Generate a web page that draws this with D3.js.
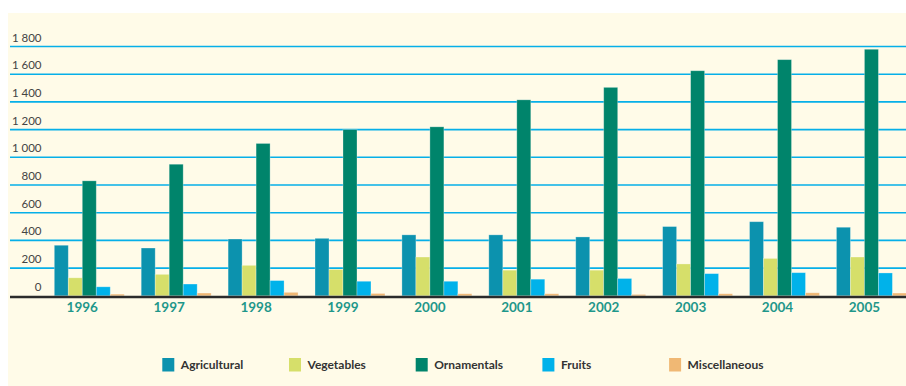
<!DOCTYPE html>
<html>
<head>
<meta charset="utf-8">
<script src="https://cdn.jsdelivr.net/npm/d3@7/dist/d3.min.js"></script>
<style>
  html, body { margin: 0; padding: 0; background: #ffffff; }
  svg { display: block; }
</style>
</head>
<body>
<svg id="chart" width="906" height="386"></svg>
<script>
// Exports by product group, 1996–2005
const years = ["1996", "1997", "1998", "1999", "2000", "2001", "2002", "2003", "2004", "2005"];
const seriesNames = ["Agricultural", "Vegetables", "Ornamentals", "Fruits", "Miscellaneous"];
const seriesColors = ["#0c92ae", "#d6df6a", "#00846b", "#00b2ea", "#f0b874"];

const agricultural  = [365, 345, 410, 415, 440, 440, 425, 500, 535, 495];
const vegetables    = [130, 155, 220, 190, 280, 185, 185, 230, 270, 280];
const ornamentals   = [830, 950, 1100, 1200, 1220, 1415, 1505, 1625, 1705, 1780];
const fruits        = [65, 85, 110, 105, 105, 120, 125, 160, 167, 165];
const miscellaneous = [12, 20, 25, 17, 15, 15, 10, 15, 22, 20];

const yTicks = [0, 200, 400, 600, 800, 1000, 1200, 1400, 1600, 1800];

const seriesValues = [agricultural, vegetables, ornamentals, fruits, miscellaneous];
const rows = years.map((yr, i) => ({
  year: yr,
  values: seriesNames.map((name, s) => ({ name, value: seriesValues[s][i], color: seriesColors[s] }))
}));

const svg = d3.select("#chart");

// Cream panel
svg.append("rect")
  .attr("x", 8).attr("y", 13)
  .attr("width", 906 - 8).attr("height", 386 - 13)
  .attr("fill", "#fffbe8");

const y = d3.scaleLinear().domain([0, 1800]).range([295.8, 46.5]);
const x = d3.scaleBand().domain(years).range([54.3, 906.4]).paddingInner(0.195).paddingOuter(0);
const xs = d3.scaleBand().domain(seriesNames).range([0, x.bandwidth()]).padding(0);

const fmt = d3.formatLocale({ decimal: ",", thousands: " ", grouping: [3], currency: ["", ""] }).format(",d");

// Horizontal gridlines
svg.append("g")
  .selectAll("line")
  .data(yTicks.filter(d => d > 0))
  .join("line")
  .attr("x1", 10).attr("x2", 906)
  .attr("y1", d => y(d)).attr("y2", d => y(d))
  .attr("stroke", "#06afe8")
  .attr("stroke-width", 1.6);

// Tick labels sit just above their gridline
svg.append("g")
  .selectAll("text")
  .data(yTicks)
  .join("text")
  .attr("x", 41.5)
  .attr("y", d => y(d) - 5)
  .attr("text-anchor", "end")
  .attr("font-family", "Lato, 'Open Sans', sans-serif")
  .attr("font-size", 11.5)
  .attr("fill", "#444")
  .text(d => fmt(d));

// Bars
const groups = svg.append("g")
  .selectAll("g")
  .data(rows)
  .join("g")
  .attr("transform", d => `translate(${x(d.year)},0)`);

groups.selectAll("rect")
  .data(d => d.values)
  .join("rect")
  .attr("x", d => xs(d.name))
  .attr("y", d => y(d.value))
  .attr("width", xs.bandwidth())
  .attr("height", d => y(0) - y(d.value))
  .attr("fill", d => d.color)
  .attr("stroke", "rgba(255,255,255,0.35)")
  .attr("stroke-width", 0.8);

// Baseline
svg.append("line")
  .attr("x1", 10).attr("x2", 906)
  .attr("y1", y(0) + 1.3).attr("y2", y(0) + 1.3)
  .attr("stroke", "#2b2b2b")
  .attr("stroke-width", 2.5);

// Year labels
svg.append("g")
  .selectAll("text")
  .data(years)
  .join("text")
  .attr("x", d => x(d) + xs.bandwidth() * 2)
  .attr("y", 312)
  .attr("text-anchor", "middle")
  .attr("font-family", "Lato, 'Open Sans', sans-serif")
  .attr("font-weight", 700)
  .attr("font-size", 13.5)
  .attr("fill", "#1f978a")
  .text(d => d);

// Legend
const legend = svg.append("g")
  .selectAll("g")
  .data(seriesNames.map((n, i) => ({ name: n, color: seriesColors[i] })))
  .join("g")
  .attr("transform", (d, i) => `translate(${162.3 + i * 126.7},358)`);

legend.append("rect")
  .attr("width", 12).attr("height", 13.5)
  .attr("fill", d => d.color);

legend.append("text")
  .attr("x", 18.5)
  .attr("y", 11)
  .attr("font-family", "Lato, 'Open Sans', sans-serif")
  .attr("font-weight", 700)
  .attr("font-size", 12)
  .attr("fill", "#333")
  .text(d => d.name);
</script>
</body>
</html>
